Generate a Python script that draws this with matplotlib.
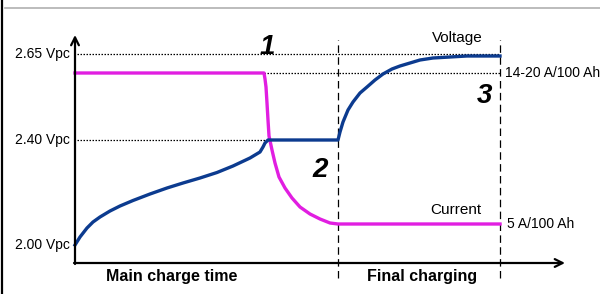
import matplotlib

matplotlib.use("Agg")
import matplotlib.pyplot as plt
from matplotlib.lines import Line2D

# chart units: x = time from the y axis, y = height above the time axis
VOLT_T = [0, 5, 12, 18, 25, 35, 45, 58, 75, 92, 108, 125, 142, 158, 175,
          185, 188, 190, 193, 263, 265, 268, 273, 278, 285, 292, 300, 308,
          317, 325, 335, 345, 358, 375, 392, 425]
VOLT_Y = [18, 26, 35, 41, 46, 52, 57, 62.5, 69, 75, 80, 85, 90.5, 97, 105,
          111, 116, 120, 123, 123, 131, 141, 153, 161, 170, 176, 183, 189,
          194, 197, 200, 203, 205, 206, 207, 207]

CURR_T = [0, 189, 190, 191, 192, 193, 194, 197, 200, 204, 210, 217, 225,
          235, 245, 255, 263, 425]
CURR_Y = [190, 190, 184, 176, 160, 143, 127, 113, 100, 86, 75, 65, 56,
          49, 44, 40, 39, 39]

LEVELS = [209, 123, 18]
LEVEL_LABELS = ["2.65 Vpc", "2.40 Vpc", "2.00 Vpc"]
CURR_HIGH, CURR_LOW = 190, 39
PHASE_ENDS = [263, 425]

BLUE = "#0c3b8f"
MAGENTA = "#e11ee1"
FONT = "Liberation Sans"

fig = plt.figure(figsize=(6.0, 2.94), dpi=100)
ax = fig.add_axes([0, 0, 1, 1])
ax.set_xlim(-75, 525)
ax.set_ylim(-31, 263)
ax.axis("off")

# frame of the picture
fig.add_artist(Line2D([0.004, 0.004], [0, 1], color="black", lw=1.6))
fig.add_artist(Line2D([0.008, 1], [0.973, 0.973], color="#b0b0b0", lw=1.2))

# axes with arrows
ax.annotate("", xy=(0, 228), xytext=(0, -1),
            arrowprops=dict(arrowstyle="->", lw=1.6, color="black",
                            mutation_scale=14, shrinkA=0, shrinkB=0))
ax.annotate("", xy=(490, 0), xytext=(-1, 0),
            arrowprops=dict(arrowstyle="->", lw=1.6, color="black",
                            mutation_scale=14, shrinkA=0, shrinkB=0))

# dotted guide lines
dot = dict(color="black", lw=0.9, ls=(0, (1.2, 1.2)))
ax.plot([2, PHASE_ENDS[1]], [LEVELS[0]] * 2, **dot)
ax.plot([2, 190], [LEVELS[1]] * 2, **dot)
ax.plot([189, PHASE_ENDS[1]], [CURR_HIGH] * 2, **dot)

# phase boundaries
for t in PHASE_ENDS:
    ax.plot([t, t], [-15, 223], color="black", lw=0.9, ls=(0, (6, 3.5)))

ax.plot(CURR_T, CURR_Y, color=MAGENTA, lw=2.4, solid_joinstyle="round")
ax.plot(VOLT_T, VOLT_Y, color=BLUE, lw=2.4, solid_joinstyle="round")

for y, lab in zip(LEVELS, LEVEL_LABELS):
    ax.text(-5, y, lab, ha="right", va="center", fontsize=10,
            family=FONT)

ax.text(430, CURR_HIGH, "14-20 A/100 Ah", ha="left", va="center",
        fontsize=10, family=FONT)
ax.text(432, CURR_LOW, "5 A/100 Ah", ha="left", va="center",
        fontsize=10, family=FONT)
ax.text(382, 225, "Voltage", ha="center", va="center", fontsize=11,
        family=FONT)
ax.text(381, 53, "Current", ha="center", va="center", fontsize=11,
        family=FONT)

for x, y, s in [(192, 216, "1"), (245, 93, "2"), (409, 167, "3")]:
    ax.text(x, y, s, ha="center", va="center", fontsize=20,
            fontweight="bold", fontstyle="italic", family=FONT)

ax.text(97, -14, "Main charge time", ha="center", va="center",
        fontsize=11.5, fontweight="bold", family=FONT)
ax.text(347, -14, "Final charging", ha="center", va="center",
        fontsize=11.5, fontweight="bold", family=FONT)

fig.savefig("out.png", dpi=100)
